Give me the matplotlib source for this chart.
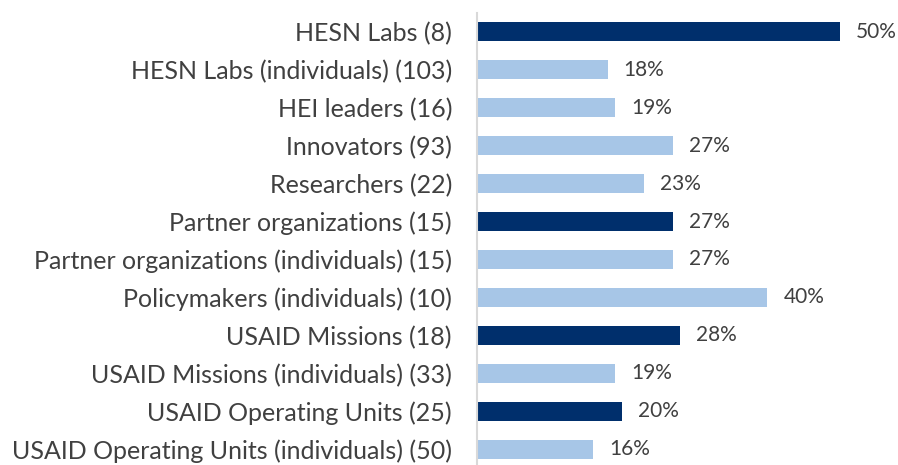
import numpy as np
import matplotlib.pyplot as plt

labels = ["HESN Labs (8)", "HESN Labs (individuals) (103)", "HEI leaders (16)",
          "Innovators (93)", "Researchers (22)", "Partner organizations (15)",
          "Partner organizations (individuals) (15)", "Policymakers (individuals) (10)",
          "USAID Missions (18)", "USAID Missions (individuals) (33)",
          "USAID Operating Units (25)", "USAID Operating Units (individuals) (50)"]
values = [50, 18, 19, 27, 23, 27, 27, 40, 28, 19, 20, 16]
is_org = [True, False, False, False, False, True, False, False, True, False, True, False]

dark = "#002F6C"
light = "#A7C6E7"
txt = "#404040"

plt.rcParams['font.family'] = ['Lato', 'DejaVu Sans']

fig = plt.figure(figsize=(8.98, 4.65), dpi=100)
ax = fig.add_axes([477 / 898, -3 / 465, 413 / 898, 455 / 465])

y = np.arange(len(labels))
colors = [dark if o else light for o in is_org]
ax.barh(y, values, height=0.5, color=colors)

for yi, v in zip(y, values):
    ax.text(v + 2.2, yi, f"{v}%", va="center", ha="left", fontsize=15, color=txt)

ax.set_yticks(y)
ax.set_yticklabels(labels, fontsize=18, color=txt)
ax.tick_params(axis="y", length=0, pad=18)
ax.set_xticks([])
ax.set_xlim(0, 413 / 7.26)
ax.set_ylim(len(labels) - 0.5, -0.5)

for s in ["top", "right", "bottom"]:
    ax.spines[s].set_visible(False)
ax.spines["left"].set_color("#D9D9D9")
ax.spines["left"].set_linewidth(1.5)

fig.savefig("out.png", dpi=100)
